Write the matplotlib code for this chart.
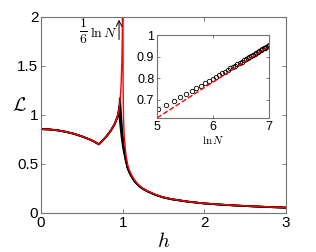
import numpy as np
import matplotlib
matplotlib.use("Agg")
import matplotlib.pyplot as plt

plt.rcParams['font.family'] = ['Liberation Sans', 'DejaVu Sans']
plt.rcParams['mathtext.fontset'] = 'cm'

# main panel: L(h) for finite N (black) and the limit (red)
h_fin = [0, 0.1, 0.2, 0.3, 0.4, 0.5, 0.6, 0.65, 0.707, 0.75, 0.8, 0.85, 0.88,
         0.9, 0.92, 0.94, 0.95, 0.96, 0.965, 0.97, 0.98, 0.99, 1.0, 1.01, 1.02,
         1.03, 1.04, 1.06, 1.08, 1.1, 1.15, 1.2, 1.25, 1.3, 1.4, 1.5, 1.6, 1.8,
         2.0, 2.2, 2.4, 2.6, 2.8, 3.0]
L_n1 = [0.855, 0.852, 0.843, 0.828, 0.808, 0.781, 0.748, 0.728, 0.700, 0.735,
        0.780, 0.835, 0.875, 0.905, 0.945, 0.995, 1.030, 1.090, 1.170, 1.130,
        1.000, 0.880, 0.780, 0.700, 0.640, 0.590, 0.540, 0.465, 0.420, 0.385,
        0.318, 0.275, 0.245, 0.222, 0.185, 0.158, 0.140, 0.115, 0.097, 0.085,
        0.075, 0.067, 0.060, 0.054]
L_n2 = [0.855, 0.852, 0.843, 0.828, 0.808, 0.781, 0.748, 0.728, 0.700, 0.735,
        0.780, 0.835, 0.875, 0.905, 0.945, 0.990, 1.040, 1.090, 1.040, 0.980,
        0.900, 0.810, 0.740, 0.670, 0.620, 0.575, 0.530, 0.460, 0.418, 0.384,
        0.318, 0.275, 0.245, 0.222, 0.185, 0.158, 0.140, 0.115, 0.097, 0.085,
        0.075, 0.067, 0.060, 0.054]
L_n3 = [0.855, 0.852, 0.843, 0.828, 0.808, 0.781, 0.748, 0.728, 0.700, 0.735,
        0.780, 0.835, 0.875, 0.905, 0.945, 0.985, 1.010, 0.980, 0.940, 0.900,
        0.820, 0.750, 0.690, 0.640, 0.600, 0.560, 0.520, 0.455, 0.415, 0.382,
        0.317, 0.275, 0.245, 0.222, 0.185, 0.158, 0.140, 0.115, 0.097, 0.085,
        0.075, 0.067, 0.060, 0.054]

h_inf = [0, 0.1, 0.2, 0.3, 0.4, 0.5, 0.6, 0.65, 0.707, 0.75, 0.8, 0.85, 0.88,
         0.9, 0.92, 0.94, 0.95, 0.96, 0.97, 0.98, 0.99, 0.995, 0.999, 1.0,
         1.001, 1.005, 1.01, 1.02, 1.04, 1.06, 1.08, 1.1, 1.15, 1.2, 1.25, 1.3,
         1.4, 1.5, 1.6, 1.8, 2.0, 2.2, 2.4, 2.6, 2.8, 3.0]
L_inf = [0.855, 0.852, 0.843, 0.828, 0.808, 0.781, 0.748, 0.728, 0.700, 0.735,
         0.780, 0.835, 0.875, 0.905, 0.945, 0.995, 1.035, 1.090, 1.170, 1.300,
         1.550, 1.800, 2.400, 3.000, 2.400, 1.300, 0.950, 0.760, 0.590, 0.495,
         0.440, 0.402, 0.328, 0.282, 0.250, 0.226, 0.188, 0.160, 0.142, 0.116,
         0.098, 0.086, 0.076, 0.068, 0.061, 0.055]

# inset: value at the peak vs ln N
N = [150, 175, 200, 225, 250, 275, 300, 325, 350, 375, 400, 425, 450, 475,
     500, 525, 550, 575, 600, 625, 650, 675, 700, 725, 750, 775, 800, 825,
     850, 875, 900, 925, 950, 975, 1000, 1025, 1050, 1075, 1100]
L_peak = [0.655, 0.677, 0.695, 0.712, 0.727, 0.741, 0.754, 0.765, 0.776,
          0.787, 0.797, 0.806, 0.814, 0.822, 0.830, 0.837, 0.845, 0.851,
          0.858, 0.864, 0.871, 0.876, 0.882, 0.888, 0.892, 0.898, 0.903,
          0.907, 0.912, 0.917, 0.922, 0.925, 0.930, 0.934, 0.938, 0.941,
          0.946, 0.949, 0.953]
fit_x = [5, 7]
fit_y = [0.615, 0.948]

fig = plt.figure(figsize=(3.16, 2.52), dpi=100)
ax = fig.add_axes([0.130, 0.155, 0.775, 0.778])

ax.plot(h_fin, L_n3, color='black', lw=1.3)
ax.plot(h_fin, L_n2, color='black', lw=1.3)
ax.plot(h_fin, L_n1, color='black', lw=1.3)
ax.plot(h_inf, L_inf, color='red', lw=1.0)

ax.set_xlim(0, 3)
ax.set_ylim(0, 2)
ax.set_xticks([0, 1, 2, 3])
ax.set_yticks([0, 0.5, 1, 1.5, 2])
ax.set_yticklabels(['0', '0.5', '1', '1.5', '2'])
ax.tick_params(direction='in', top=True, right=True, labelsize=11,
               length=3, width=0.6, color='0.4', pad=2)
for s in ax.spines.values():
    s.set_color('0.45')
    s.set_linewidth(0.8)
ax.set_xlabel('$h$', fontsize=15, labelpad=2)
ax.set_ylabel(r'$\mathcal{L}$', fontsize=14, rotation=0, labelpad=12)
ax.yaxis.set_label_coords(-0.09, 0.5)

ax.annotate('', xy=(0.955, 2.0), xytext=(0.955, 1.74),
            arrowprops=dict(arrowstyle='->', color='black', lw=0.7))
ax.text(0.575, 1.85, r'$\frac{1}{6}$', fontsize=14, ha='right', va='center')
ax.text(0.60, 1.84, r'$\ln N$', fontsize=10, ha='left', va='center')

ins = fig.add_axes([0.497, 0.532, 0.354, 0.329])
ins.plot(np.log(N), L_peak, 'o', mfc='none', mec='black', ms=3.2, mew=0.6)
ins.plot(fit_x, fit_y, '--', color='red', lw=1.0)
ins.set_xlim(5, 7)
ins.set_ylim(0.615, 1.0)
ins.set_xticks([5, 6, 7])
ins.set_yticks([0.7, 0.8, 0.9, 1.0])
ins.set_yticklabels(['0.7', '0.8', '0.9', '1'])
ins.tick_params(direction='in', top=True, right=True, labelsize=9,
                length=2, width=0.6, color='0.4', pad=2)
for s in ins.spines.values():
    s.set_color('0.45')
    s.set_linewidth(0.8)
ins.set_xlabel(r'$\ln N$', fontsize=8, labelpad=1)

fig.savefig('out.png', dpi=100)
